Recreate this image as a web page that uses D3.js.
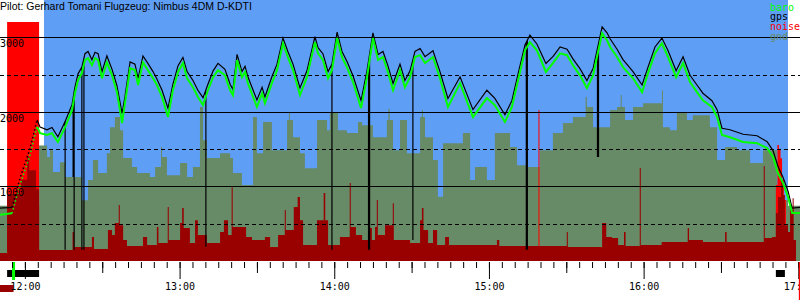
<!DOCTYPE html>
<meta charset="utf-8">
<style>
    body { margin: 0; background: white; }
    svg { display: block; }
    .mono { font-family: "DejaVu Sans Mono", monospace; font-size: 10px; }
    .title { font-family: "Liberation Sans", Arial, sans-serif; font-size: 10.5px; }
</style>

<body>
    <svg id="chart" width="800" height="300"></svg>
    <script src="https://d3js.org/d3.v7.min.js"></script>
    <script>
        // time in minutes after 12:00, altitude in metres
        const baro = [[-9.7,620],[-5,640],[-1.9,1020],[2,1420],[4.7,1800],[5.9,1715],[8.6,1690],[10.5,1715],[12.8,1595],[15.6,1795],[18.3,2025],[19.4,2250],[20.6,2425],[22.1,2520],[23.3,2695],[24.5,2720],[26,2625],[27.2,2720],[28.4,2695],[29.9,2450],[31.8,2665],[33.8,2490],[35.7,2265],[37.7,1850],[38.8,2115],[40.8,2585],[42.7,2560],[43.9,2360],[45.8,2665],[47.7,2560],[49.7,2450],[51.2,2360],[53.2,2200],[55.5,1930],[57.4,2290],[59.4,2535],[61.3,2655],[62.9,2450],[65.2,2330],[67.1,2200],[69.1,2090],[71,2290],[73,2465],[74.9,2560],[77.6,2490],[79.6,2290],[80.7,2225],[82.3,2695],[84.2,2465],[85.4,2535],[86.5,2385],[90,2065],[92,2250],[93.1,2115],[95.8,2385],[97.8,2560],[100.1,2920],[102,2735],[104,2560],[106.7,2225],[109.4,2465],[112.5,2935],[113.7,2785],[115.6,2695],[117.6,2450],[119.1,2560],[121.1,2990],[123,2735],[124.9,2600],[127.3,2400],[130.4,2050],[132.7,2465],[135,2990],[137,2695],[138.9,2735],[140.8,2535],[142.8,2290],[145.5,2560],[147.4,2330],[149.4,2465],[151.3,2735],[153.3,2760],[155.2,2655],[158.3,2735],[161,2450],[164.1,2065],[168.8,2385],[173.8,1930],[179.2,2185],[182.3,2090],[186.2,1865],[188.9,2065],[191.3,2425],[194,2825],[195.9,2935],[198.6,2825],[202.1,2535],[204.8,2655],[207.6,2785],[210.3,2760],[212.6,2625],[215.3,2490],[218,2320],[220.4,2490],[221.9,2735],[223.9,3055],[225.8,2960],[227,2870],[229.7,2735],[232,2600],[235.9,2450],[239.4,2265],[241.7,2520],[244.4,2785],[247.1,2920],[249.5,2735],[252.6,2465],[255.3,2655],[258,2400],[260.7,2265],[263,2155],[266.5,2065],[268.5,1930],[270.4,1690],[273.5,1660],[278.6,1595],[284,1580],[287.9,1515],[290.2,1395],[292.1,1180],[294.1,1045],[296,860],[297.6,645],[300.7,645]];

        const gps = [[-9.7,710],[-5,720],[-1.9,1110],[2,1510],[4.7,1890],[5.9,1795],[8.6,1760],[10.5,1790],[12.8,1665],[15.6,1870],[18.3,2100],[19.4,2330],[20.6,2510],[22.1,2600],[23.3,2780],[24.5,2810],[26,2700],[27.2,2800],[28.4,2780],[29.9,2540],[31.8,2750],[33.8,2570],[35.7,2350],[37.7,1980],[38.8,2200],[40.8,2670],[42.7,2640],[43.9,2450],[45.8,2750],[47.7,2650],[49.7,2540],[51.2,2440],[53.2,2290],[55.5,2050],[57.4,2370],[59.4,2620],[61.3,2730],[62.9,2540],[65.2,2420],[67.1,2290],[69.1,2190],[71,2370],[73,2550],[74.9,2650],[77.6,2570],[79.6,2370],[80.7,2300],[82.3,2770],[84.2,2540],[85.4,2610],[86.5,2470],[90,2160],[92,2330],[93.1,2200],[95.8,2470],[97.8,2640],[100.1,2990],[102,2810],[104,2640],[106.7,2320],[109.4,2550],[112.5,3010],[113.7,2860],[115.6,2780],[117.6,2540],[119.1,2640],[121.1,3070],[123,2810],[124.9,2680],[127.3,2480],[130.4,2150],[132.7,2550],[135,3060],[137,2770],[138.9,2810],[140.8,2620],[142.8,2380],[145.5,2640],[147.4,2420],[149.4,2550],[151.3,2810],[153.3,2850],[155.2,2740],[158.3,2820],[161,2540],[164.1,2180],[168.8,2470],[173.8,2030],[179.2,2290],[182.3,2180],[186.2,1960],[188.9,2150],[191.3,2510],[194,2900],[195.9,3030],[198.6,2910],[202.1,2650],[204.8,2740],[207.6,2870],[210.3,2840],[212.6,2710],[215.3,2580],[218,2420],[220.4,2580],[221.9,2820],[223.9,3140],[225.8,3060],[227,2980],[229.7,2840],[232,2700],[235.9,2540],[239.4,2360],[241.7,2600],[244.4,2870],[247.1,2990],[249.5,2820],[252.6,2550],[255.3,2740],[258,2490],[260.7,2360],[263,2250],[266.5,2150],[268.5,2030],[270.4,1780],[273.5,1760],[278.6,1700],[284,1680],[287.9,1600],[290.2,1480],[292.1,1270],[294.1,1120],[296,940],[297.6,710],[300.7,720]];

        // gps dropouts: time, altitude the fix fell to
        const gpsDrops = [[15.6,150],[18.7,1125],[19.1,150],[22.1,150],[22.9,150],[70.2,190],[119.1,150],[133.3,150],[133.7,150],[150.5,280],[194.5,150],[194.9,150],[222.1,1395],[222.5,1395]];

        const gnd = [[-9.7,740],[-6.9,740],[5.5,1550],[8.6,1395],[9.7,1485],[10.9,1195],[13.6,1325],[15.6,1125],[22.1,815],[24.5,1085],[26.4,1355],[28.4,1180],[31.8,1445],[33,1795],[34.9,1930],[36.9,1755],[38.1,1380],[41.5,1260],[43.5,1180],[48.5,1125],[50.5,1260],[52.8,1530],[53.2,1395],[55.1,1150],[60.2,1315],[62.9,1125],[65.2,1260],[67.9,2065],[69.1,1620],[70.6,1380],[75.7,1445],[79.6,1380],[80.7,1180],[84.2,1020],[88.5,1930],[90,1445],[92.4,1865],[95.8,1485],[101.7,1890],[102.4,2000],[102.8,1890],[104,1660],[106.7,1445],[108.6,1245],[113.3,1890],[117.2,1755],[118.3,1985],[121.4,1755],[124.9,1715],[129.2,1865],[130.8,1820],[135,1660],[140.4,1890],[141,2040],[141.5,1890],[142.8,1485],[145.5,1890],[148.2,1445],[153.3,1930],[154,2025],[154.4,1930],[155.2,1660],[158.3,1355],[160.2,860],[162.2,1580],[169.9,1715],[172.7,1085],[174.6,1260],[179.2,1085],[182.3,1715],[188.2,1530],[190.9,1285],[194.8,1260],[199.8,1485],[204.8,1715],[208.7,1850],[212.6,1930],[217.5,2200],[218,2065],[220.4,1795],[227,2025],[229.7,2065],[231.1,2225],[231.5,2065],[232.8,1890],[235.9,2065],[239.8,2115],[247.1,2290],[247.5,1795],[250.2,1755],[252.9,1985],[256.8,1890],[259.1,1955],[265.7,1795],[268.5,1355],[271.6,1530],[276.2,1485],[281.3,1315],[286.3,1485],[291.7,815],[296,740],[300.7,740]];

        // noise level 0..1000
        const noise = [[-9.7,0],[-6.9,1000],[5.5,0],[199.2,632],[199.6,0],[291.3,318],[291.9,485],[292.5,470],[293.1,430],[293.7,340],[294.4,255],[295.2,0],[300.7,0]];

        const enl = [[-9.7,33],[-6.9,280],[-1.5,340],[0.9,435],[1.7,380],[4.3,300],[5.5,46],[18.5,121],[19.1,59],[26,100],[26.8,50],[32.2,130],[33.8,109],[34.9,159],[36.4,234],[36.8,150],[38.1,88],[39.6,63],[45.8,100],[47.4,67],[51.2,142],[51.8,75],[55.4,226],[55.8,88],[60.2,159],[61,222],[61.6,138],[64,75],[66,171],[67.1,109],[70.6,75],[75.7,121],[77.2,171],[78.8,109],[80.2,309],[80.6,142],[83.4,142],[85.8,100],[88.1,88],[93.1,100],[95.1,59],[98.2,109],[100.8,213],[101.2,130],[104.3,226],[105.8,268],[106.7,171],[107.9,67],[113.3,171],[115.9,284],[116.5,171],[117.6,67],[122.2,100],[126,326],[126.4,142],[128.4,109],[130.8,88],[133.1,138],[134.6,88],[135.8,142],[136.5,255],[136.9,109],[139.7,150],[142.7,242],[143.1,88],[149.4,75],[153.3,171],[154,222],[154.6,130],[156.4,75],[158.3,130],[159.9,67],[163,100],[164.5,67],[183.1,88],[184,63],[210.2,121],[210.6,59],[223.9,159],[225.5,100],[227.7,96],[230.1,67],[232.4,121],[233,63],[238.5,389],[238.9,67],[247,80],[255,80],[257.1,138],[257.6,88],[263,79],[271.6,121],[272.2,79],[286.6,397],[287,96],[289.8,100],[291.3,201],[292.1,268],[293.3,339],[294.1,276],[294.8,150],[296,121],[296.8,213],[297.8,263],[298.2,88],[299.1,33]];

        const flight = [7.4, 296];
        const climb = [-5, 4.7];
        const takeoff = -4.4;
        const landing = 300.5;
        const engineRuns = [[-6.9, 5.5], [291.3, 294.8]];
        const altGrid = [500, 1000, 1500, 2000, 2500, 3000];
        const minorTicks = d3.range(-5, 301, 5);
        const halfTicks = d3.range(30, 301, 60);
        const hourTicks = d3.range(0, 301, 60);
        const legendNames = ["baro", "gps", "noise", "gnd"];
        const title = "Pilot: Gerhard Tomani Flugzeug: Nimbus 4DM D-KDTI";

        const colors = { baro: "#00ff00", gps: "#000000", noise: "#ff0000", gnd: "#678a67", enl: "#990000", sky: "#5f9ef5" };

        const svg = d3.select("#chart");
        const x = d3.scaleLinear().domain([-9.66, 300.66]).range([0, 800]);
        const y = d3.scaleLinear().domain([0, 3500]).range([261, 0]);
        const yNoise = d3.scaleLinear().domain([0, 1000]).range([261, 22]);

        // sky while airborne
        svg.append("rect")
            .attr("x", x(flight[0]))
            .attr("y", 0)
            .attr("width", x(flight[1]) - x(flight[0]))
            .attr("height", y(0))
            .attr("fill", colors.sky);

        const area = (yy) => d3.area()
            .curve(d3.curveStepAfter)
            .x(d => x(d[0]))
            .y0(yy(0))
            .y1(d => yy(d[1]));

        svg.append("path").attr("d", area(y)(gnd)).attr("fill", colors.gnd);
        svg.append("path").attr("d", area(yNoise)(noise)).attr("fill", colors.noise);
        svg.append("path").attr("d", area(yNoise)(enl)).attr("fill", colors.enl);

        // grid
        svg.selectAll("line.grid")
            .data(altGrid)
            .join("line")
            .attr("class", "grid")
            .attr("x1", 0).attr("x2", 800)
            .attr("y1", d => Math.round(y(d)) + 0.5)
            .attr("y2", d => Math.round(y(d)) + 0.5)
            .attr("stroke", "black")
            .attr("stroke-dasharray", d => d % 1000 ? "4,3" : null);

        const line = d3.line().x(d => x(d[0])).y(d => y(d[1]));
        const part = (data, a, b) => data.filter(d => d[0] >= a && d[0] <= b);

        // gps line with the dropouts spliced in
        const bis = d3.bisector(d => d[0]).left;
        let gpsFull = part(gps, climb[1], Infinity);
        gpsDrops.forEach(g => {
            const i = bis(gps, g[0]);
            const p0 = gps[i - 1], p1 = gps[i];
            const top = p0[1] + (p1[1] - p0[1]) * (g[0] - p0[0]) / (p1[0] - p0[0]);
            gpsFull.push([g[0], top], [g[0], g[1]], [g[0], top]);
        });
        gpsFull.sort((a, b) => a[0] - b[0]);

        [["gps", gps, gpsFull, 1.2], ["baro", baro, part(baro, climb[1], Infinity), 2]].forEach(([name, data, main, w]) => {
            svg.append("path")
                .attr("d", line(part(data, -Infinity, climb[0])))
                .attr("fill", "none").attr("stroke", colors[name]).attr("stroke-width", w);
            svg.append("path")
                .attr("d", line(part(data, climb[0], climb[1])))
                .attr("fill", "none").attr("stroke", colors[name]).attr("stroke-width", 1.5)
                .attr("stroke-dasharray", "1.5,2.5");
            svg.append("path")
                .attr("d", line(main))
                .attr("fill", "none").attr("stroke", colors[name]).attr("stroke-width", w);
        });

        svg.selectAll("text.alt")
            .data(altGrid.filter(d => d % 1000 == 0))
            .join("text")
            .attr("class", "alt mono")
            .attr("x", 0)
            .attr("y", d => y(d) + 10)
            .text(d => d);

        // engine runs, takeoff and landing marks
        svg.selectAll("rect.engine")
            .data(engineRuns)
            .join("rect")
            .attr("class", "engine")
            .attr("x", d => x(d[0]))
            .attr("y", 270)
            .attr("width", d => x(d[1]) - x(d[0]))
            .attr("height", 7)
            .attr("fill", "black");

        svg.append("rect")
            .attr("x", 0).attr("y", 285)
            .attr("width", x(takeoff) - x.range()[0]).attr("height", 7)
            .attr("fill", colors.enl);

        svg.append("line")
            .attr("x1", x(takeoff)).attr("x2", x(takeoff))
            .attr("y1", 262).attr("y2", 280)
            .attr("stroke", colors.baro).attr("stroke-width", 3);

        // time axis
        const axisG = svg.append("g").attr("transform", "translate(0,262)");
        const hhmm = d => d3.format("02")(12 + d / 60) + ":00";
        axisG.append("g").call(d3.axisBottom(x).tickValues(minorTicks).tickSize(6).tickFormat(""));
        axisG.append("g").call(d3.axisBottom(x).tickValues(halfTicks).tickSize(11).tickFormat(""));
        axisG.append("g").call(d3.axisBottom(x).tickValues(hourTicks).tickSize(17).tickPadding(4).tickFormat(hhmm));
        axisG.selectAll(".domain").remove();
        axisG.selectAll("g").attr("font-family", null).attr("font-size", null);
        axisG.selectAll("text").attr("class", "mono");

        svg.append("line")
            .attr("x1", x(landing)).attr("x2", x(landing))
            .attr("y1", 262).attr("y2", 300)
            .attr("stroke", colors.noise).attr("stroke-width", 1.5);

        // legend
        svg.selectAll("text.legend")
            .data(legendNames)
            .join("text")
            .attr("class", "legend mono")
            .attr("x", 770)
            .attr("y", (d, i) => 10.5 + i * 9.7)
            .attr("fill", d => colors[d])
            .text(d => d);

        svg.append("text")
            .attr("class", "title")
            .attr("x", 0).attr("y", 10)
            .text(title);
    </script>
</body>

</html>
